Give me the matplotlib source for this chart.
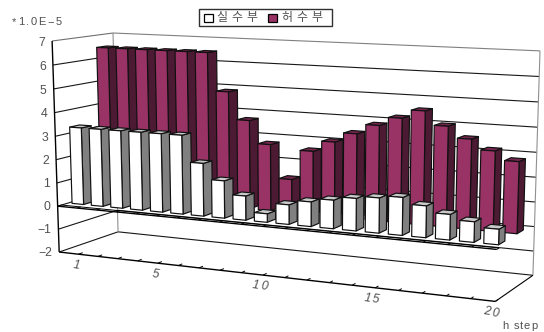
import numpy as np
import matplotlib
matplotlib.use("Agg")
import matplotlib.pyplot as plt
from matplotlib.patches import Polygon, Rectangle

# Complex response per horizon step, in units of 1e-5
steps = list(range(1, 21))
real_part = [3.3, 3.3, 3.3, 3.3, 3.3, 3.3, 2.2, 1.55, 1.0, 0.35,
             0.8, 1.0, 1.15, 1.3, 1.4, 1.5, 1.25, 1.0, 0.8, 0.6]
imag_part = [6.5, 6.5, 6.5, 6.5, 6.5, 6.5, 4.9, 3.75, 2.8, 1.4,
             2.65, 3.1, 3.5, 3.9, 4.25, 4.6, 4.05, 3.6, 3.2, 2.85]
z_ticks = list(range(-2, 8))
x_tick_labels = [1, 5, 10, 15, 20]
legend_labels = ["실수부", "허수부"]

Z_MIN, Z_MAX = -2, 7
N = len(steps)

# Pinhole camera of the 3D box: (slot, depth, value) -> canvas position
anchors = [((0, 0, -2), (59, 252)), ((0, 0, 0), (58, 206)), ((0, 0, 7), (52, 41)),
           ((0, 1, -2), (118, 232)), ((0, 1, 7), (113, 33)),
           ((N, 1, -2), (533, 275)), ((N, 1, 7), (540, 51)),
           ((N, 0, -2), (495, 302)), ((N, 0, 0), (497, 249))]
rows = []
rhs = []
for (a, b, c), (u, v) in anchors:
    rows.append([a, b, c, 1, 0, 0, 0, 0, -u * a, -u * b, -u * c])
    rhs.append(u)
    rows.append([0, 0, 0, 0, a, b, c, 1, -v * a, -v * b, -v * c])
    rhs.append(v)
coef = np.linalg.lstsq(np.array(rows, float), np.array(rhs, float), rcond=None)[0]
camera = np.append(coef, 1.0).reshape(3, 4)


def project(slot, depth, value):
    p = camera @ np.array([slot, depth, value, 1.0])
    return p[0] / p[2], p[1] / p[2]


fig = plt.figure(figsize=(5.44, 3.32), dpi=100)
ax = fig.add_axes([0, 0, 1, 1])
ax.set_xlim(0, 544)
ax.set_ylim(332, 0)
ax.axis("off")

FONT = ["Liberation Sans", "DejaVu Sans"]
KFONT = ["Noto Sans CJK KR", "DejaVu Sans"]
TEXT = "#505050"
renderer = fig.canvas.get_renderer()


def text_width(s, **kw):
    t = ax.text(0, 0, s, **kw)
    w = t.get_window_extent(renderer).width
    t.remove()
    return w


def spaced_text(x, y, s, tracking, center=False, angle=0.0, **kw):
    # Writes a string one glyph at a time with extra letter spacing
    kw.setdefault("family", FONT)
    kw.setdefault("color", TEXT)
    total = text_width(s, **kw) + tracking * (len(s) - 1)
    start = -total / 2 if center else 0.0
    c, sn = np.cos(np.radians(angle)), np.sin(np.radians(angle))
    for k, ch in enumerate(s):
        if ch == " ":
            continue
        off = start + text_width(s[:k + 1], **kw) - text_width(ch, **kw) + k * tracking
        ax.text(x + off * c, y + off * sn, ch, ha="left", va="center",
                rotation=-angle, rotation_mode="anchor", **kw)


def seg(p, q, color="#181818", lw=0.8, zorder=1):
    a, b = project(*p), project(*q)
    ax.plot([a[0], b[0]], [a[1], b[1]], color=color, lw=lw, zorder=zorder,
            solid_capstyle="butt")


# Gridlines on the left and back walls
for z in z_ticks:
    top = z == Z_MAX
    seg((0, 0, z), (0, 1, z), "#707070" if top else "#181818")
    seg((0, 1, z), (N, 1, z), "#808080" if top else "#181818")
seg((0, 1, Z_MIN), (0, 1, Z_MAX), "#909090")
seg((N, 1, Z_MIN), (N, 1, Z_MAX), "#909090")
seg((0, 0, Z_MIN), (0, 0, Z_MAX), "black", 1.0)

# Floor outline with slot ticks
seg((0, 0, Z_MIN), (N, 0, Z_MIN), "black", 1.0)
seg((N, 0, Z_MIN), (N, 1, Z_MIN), "black")
for i in range(1, N + 1):
    seg((i, 0, Z_MIN), (i, 0.07, Z_MIN), "black", 0.7)

# Category axis along the zero plane, two rails joined by ticks
seg((0, 0, 0), (N, 0, 0), "black", 1.0, 2)
seg((0, 0.06, 0), (N, 0.06, 0), "black", 0.7, 2)
for i in range(0, N + 1):
    seg((i, 0, 0), (i, 0.06, 0), "black", 0.7, 2)


def draw_bar(i, d0, d1, value, faces, zorder):
    x0, x1 = i + 0.2, i + 0.8
    front = [(x0, d0, 0), (x1, d0, 0), (x1, d0, value), (x0, d0, value)]
    side = [(x1, d0, 0), (x1, d1, 0), (x1, d1, value), (x1, d0, value)]
    top = [(x0, d0, value), (x1, d0, value), (x1, d1, value), (x0, d1, value)]
    for corners, color in zip((side, top, front), faces):
        ax.add_patch(Polygon([project(*c) for c in corners], closed=True,
                             facecolor=color, edgecolor="#101010", lw=0.85,
                             joinstyle="round", zorder=zorder))


PURPLE = ("#4d1a33", "#73264d", "#993366")
WHITE = ("#808080", "#c8c8c8", "#ffffff")
for i, value in enumerate(imag_part):
    draw_bar(i, 0.65, 0.82, value, PURPLE, 3 + i * 0.01)
for i, value in enumerate(real_part):
    draw_bar(i, 0.17, 0.33, value, WHITE, 4 + i * 0.01)

# Value axis labels
for z in z_ticks:
    u, v = project(0, 0, z)
    ax.text(u - 7, v + 0.5 + 0.2 * (z + 2), str(z).replace("-", "\u2212"), ha="right",
            va="center", fontsize=8.8, color=TEXT, family=FONT)
spaced_text(12, 22, "*1.0E\u22125", 1.6, fontsize=8)

# Category labels
for s in x_tick_labels:
    u, v = project(s - 0.5, 0, Z_MIN)
    spaced_text(u + 8, v + 12.5, str(s), 1.5, center=True, angle=8, fontsize=8.8,
                style="italic")
spaced_text(502, 326, "h step", 1.0, fontsize=8)

# Legend
ax.add_patch(Rectangle((198.5, 8.5), 133, 17.5, facecolor="white",
                       edgecolor="#303030", lw=1.0, zorder=6))
ax.add_patch(Rectangle((203.5, 13.5), 9, 8, facecolor=WHITE[2],
                       edgecolor="black", lw=0.9, zorder=7))
ax.add_patch(Rectangle((267.5, 13.5), 9, 8, facecolor=PURPLE[2],
                       edgecolor="black", lw=0.9, zorder=7))
for x0, label in zip((216, 281), legend_labels):
    for k, ch in enumerate(label):
        ax.text(x0 + k * 15, 17.5, ch, ha="left", va="center", fontsize=8.6,
                color=TEXT, family=KFONT, zorder=7)

fig.savefig("out.png", dpi=100)
